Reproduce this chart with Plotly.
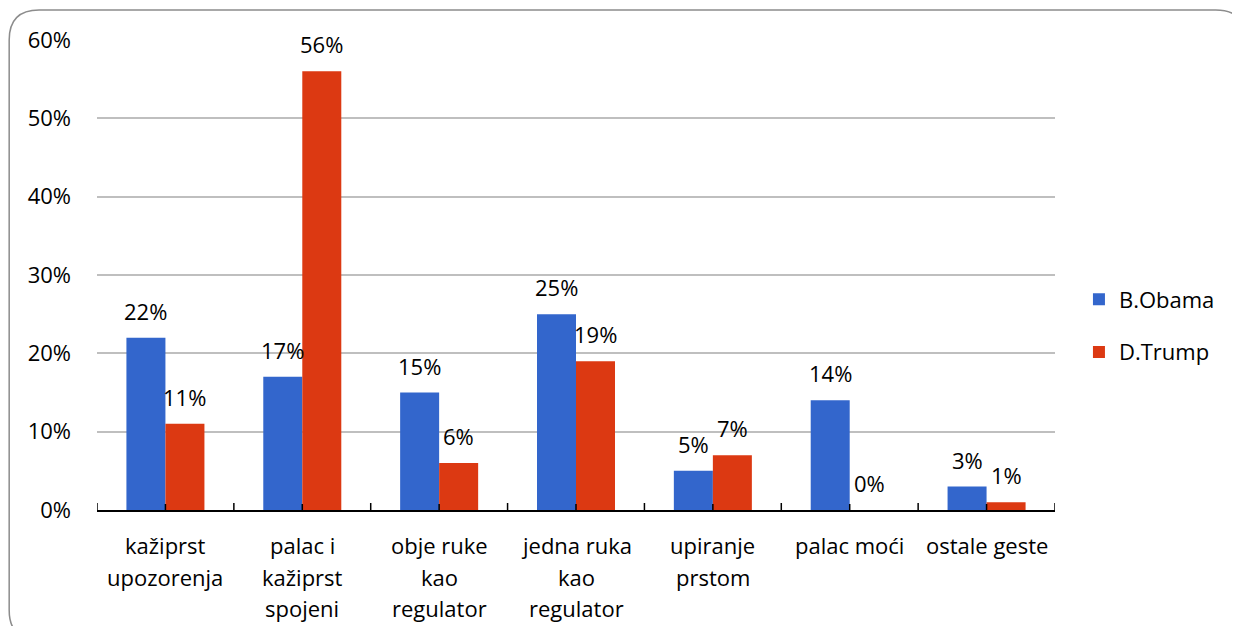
import plotly.graph_objects as go

categories = ["kažiprst\nupozorenja", "palac i\nkažiprst\nspojeni", "obje ruke\nkao\nregulator",
              "jedna ruka\nkao\nregulator", "upiranje\nprstom", "palac moći", "ostale geste"]
obama = [22, 17, 15, 25, 5, 14, 3]
trump = [11, 56, 6, 19, 7, 0, 1]
series_names = ["B.Obama", "D.Trump"]
colors = ["#3366CC", "#DC3912"]
ytick_vals = [0, 10, 20, 30, 40, 50, 60]
ytick_text = [f"{v}%" for v in ytick_vals]

FONT = "Open Sans"
FS = 22
n = len(categories)
xs = list(range(n))
bargap = 0.43
half = (1 - bargap) / 4  # offset of each bar center from category center

# the page body adds an 8px margin, so the figure is 16px smaller than the window
W, H = 1224, 618
L, R, T, B = 89, 1049, 32, 502   # plot area in figure pixels

fig = go.Figure()
for name, vals, col in zip(series_names, [obama, trump], colors):
    fig.add_trace(go.Bar(x=xs, y=vals, name=name, marker=dict(color=col, line=dict(width=0)),
                         legendgroup=name))

annotations = []
for sgn, vals in zip([-1, 1], [obama, trump]):
    for i, v in enumerate(vals):
        annotations.append(dict(x=i + sgn * half, y=v, xref="x", yref="y", text=f"{v}%",
                                showarrow=False, yanchor="middle", yshift=27,
                                font=dict(family=FONT, size=FS, color="#000")))
for i, c in enumerate(categories):
    for j, line in enumerate(c.split("\n")):
        annotations.append(dict(x=i, y=0, xref="x", yref="y", text=line, showarrow=False,
                                yanchor="middle", yshift=-35 - 31.5 * j,
                                font=dict(family=FONT, size=FS, color="#000")))

shapes = []
for i in range(n + 1):
    shapes.append(dict(type="line", xref="x", yref="y", ysizemode="pixel", yanchor=0,
                       x0=i - 0.5, x1=i - 0.5, y0=-8, y1=7, line=dict(color="#000", width=1.5)))
for i in range(n):
    shapes.append(dict(type="line", xref="x", yref="y", ysizemode="pixel", yanchor=0,
                       x0=i, x1=i, y0=-7, y1=6, line=dict(color="#000", width=1.5)))

# rounded border in paper coords (pixel -> paper); right/bottom edges fall outside the picture
def px(x): return (x - L) / (R - L)
def py(y): return (B - y) / (B - T)
x0, x1, y0, y1, r = 1.0, 1240, 2.0, 632, 30
path = (f"M {px(x0+r)},{py(y0)} L {px(x1-r)},{py(y0)} Q {px(x1)},{py(y0)} {px(x1)},{py(y0+r)} "
        f"L {px(x1)},{py(y1-r)} Q {px(x1)},{py(y1)} {px(x1-r)},{py(y1)} "
        f"L {px(x0+r)},{py(y1)} Q {px(x0)},{py(y1)} {px(x0)},{py(y1-r)} "
        f"L {px(x0)},{py(y0+r)} Q {px(x0)},{py(y0)} {px(x0+r)},{py(y0)} Z")
shapes.append(dict(type="path", xref="paper", yref="paper", path=path,
                   line=dict(color="#8c8c8c", width=1.5), layer="below"))

fig.update_layout(
    width=W, height=H,
    margin=dict(l=L, r=W - R, t=T, b=H - B),
    paper_bgcolor="white", plot_bgcolor="white",
    barmode="group", bargap=bargap, bargroupgap=0,
    font=dict(family=FONT, size=FS, color="#000"),
    xaxis=dict(range=[-0.5, n - 0.5], showticklabels=False, ticks="", showgrid=False,
               showline=True, linecolor="#000", linewidth=1.5, zeroline=False, fixedrange=True),
    yaxis=dict(range=[0, 60], tickvals=ytick_vals, ticktext=ytick_text, showgrid=True,
               gridcolor="#BFBFBF", gridwidth=1.5, zeroline=False, ticks="",
               ticklabelstandoff=25, tickfont=dict(family=FONT, size=FS, color="#000")),
    legend=dict(x=px(1073), y=py(318), xanchor="left", yanchor="middle", traceorder="grouped",
                tracegroupgap=21, font=dict(family=FONT, size=FS, color="#000"),
                itemwidth=30, bgcolor="rgba(0,0,0,0)"),
    annotations=annotations, shapes=shapes, showlegend=True,
)
fig.write_html("out.html")
